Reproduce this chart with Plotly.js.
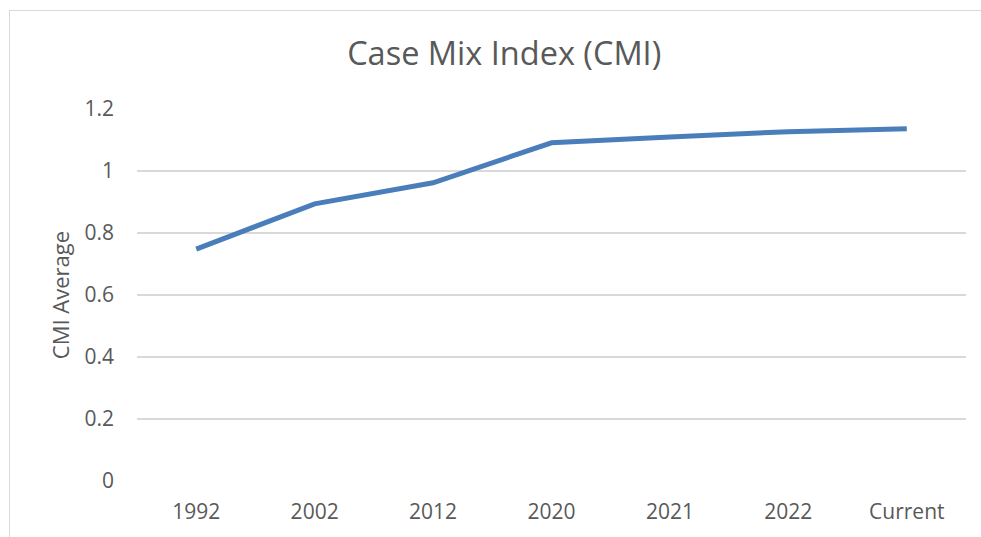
<!DOCTYPE html>
<html>
<head>
<meta charset="utf-8">
<script src="https://cdn.plot.ly/plotly-3.0.1.min.js"></script>
<style>
  html, body { margin: 0; padding: 0; background: #ffffff; }
  #chart { position: absolute; left: 0; top: 0; width: 981px; height: 537px; }
  #frame { position: absolute; left: 9px; top: 10px; width: 990px; height: 560px;
           border: 1px solid #d9d9d9; box-sizing: border-box; pointer-events: none; }
</style>
</head>
<body>
<div id="chart"></div>
<div id="frame"></div>
<script>
const categories = ["1992", "2002", "2012", "2020", "2021", "2022", "Current"];
const cmiAverage = [0.748, 0.894, 0.962, 1.091, 1.110, 1.127, 1.136];
const yTickValues = [0, 0.2, 0.4, 0.6, 0.8, 1, 1.2];
const yTickLabels = ["0", "0.2", "0.4", "0.6", "0.8", "1", "1.2"];

const textColor = "#595959";
const fontFamily = "'Open Sans', 'Liberation Sans', sans-serif";

const trace = {
  x: categories,
  y: cmiAverage,
  type: "scatter",
  mode: "lines",
  line: { color: "#4a7ebb", width: 5, shape: "linear" },
  hoverinfo: "x+y",
  showlegend: false
};

const layout = {
  width: 981,
  height: 537,
  margin: { l: 137, r: 15, t: 109, b: 56 },
  paper_bgcolor: "#ffffff",
  plot_bgcolor: "#ffffff",
  title: {
    text: "Case Mix Index (CMI)",
    font: { family: fontFamily, size: 32.5, color: textColor },
    x: 0.514, xanchor: "center",
    y: 0.9, yanchor: "middle"
  },
  xaxis: {
    type: "category",
    range: [-0.5, categories.length - 0.5],
    tickvals: categories,
    ticktext: categories,
    showgrid: false,
    zeroline: false,
    showline: false,
    ticks: "",
    ticklabelstandoff: 16,
    tickfont: { family: fontFamily, size: 21, color: textColor }
  },
  yaxis: {
    range: [0, 1.2],
    tickvals: yTickValues,
    ticktext: yTickLabels,
    showgrid: true,
    gridcolor: "#d9d9d9",
    gridwidth: 1.5,
    zeroline: false,
    showline: false,
    ticks: "",
    ticklabelstandoff: 22,
    tickfont: { family: fontFamily, size: 21, color: textColor },
    title: {
      text: "CMI Average",
      font: { family: fontFamily, size: 22, color: textColor },
      standoff: 8
    }
  }
};

Plotly.newPlot("chart", [trace], layout, { displayModeBar: false, staticPlot: true });
</script>
</body>
</html>
